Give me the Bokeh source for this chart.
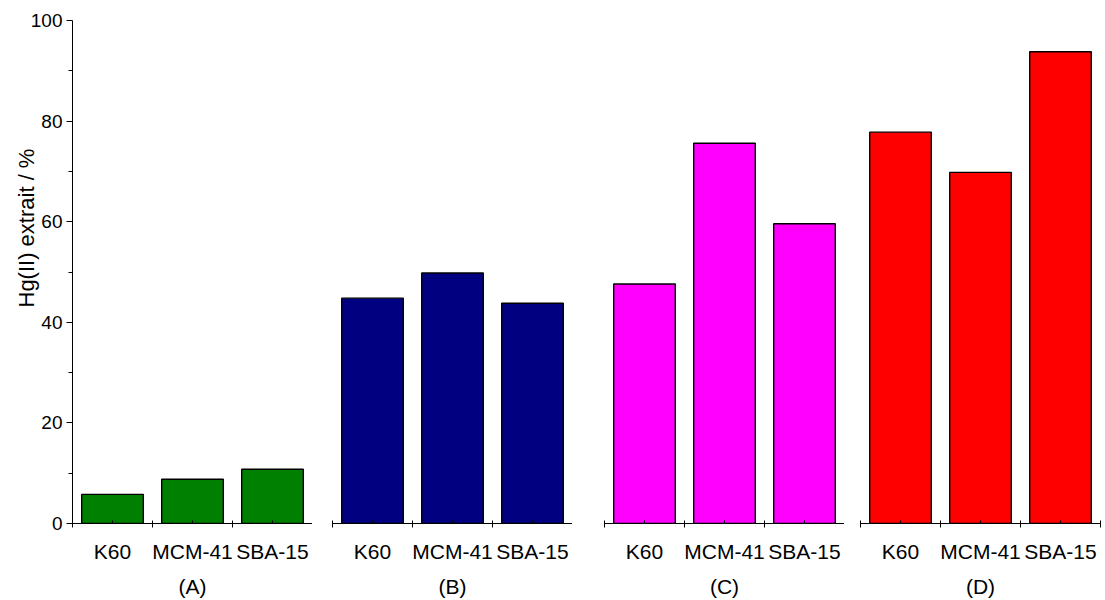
import numpy as np
from bokeh.plotting import figure
from bokeh.models import Range1d, LinearAxis, FixedTicker, Title
from bokeh.layouts import row
from bokeh.embed import file_html
from bokeh.resources import INLINE

# ---- data ----
materials = ["K60", "MCM-41", "SBA-15"]
group_labels = ["(A)", "(B)", "(C)", "(D)"]
values_A = [5.8, 8.8, 10.8]
values_B = [44.8, 49.8, 43.8]
values_C = [47.6, 75.6, 59.6]
values_D = [77.8, 69.8, 93.8]
group_values = [values_A, values_B, values_C, values_D]
group_colors = ["#008000", "#000080", "#FF00FF", "#FF0000"]
y_major = [0, 20, 40, 60, 80, 100]
y_minor = [10, 30, 50, 70, 90]
y_label = "Hg(II) extrait / %"

FONT = "Liberation Sans"
n = len(materials)
centers = list(np.arange(n) + 0.5)
bounds = list(np.arange(n + 1).astype(float))

y_range = Range1d(0, 100)

frame_w = 240
lefts = [72, 20, 32, 16]
rights = [0, 0, 0, 4]
H = 600
TOP = 20
BOTTOM = 77

figs = []
for i, (vals, col, glab) in enumerate(zip(group_values, group_colors, group_labels)):
    p = figure(width=lefts[i] + frame_w + rights[i], height=H,
               x_range=Range1d(0, n), y_range=y_range,
               output_backend="svg", toolbar_location=None,
               x_axis_location=None, y_axis_location=None,
               min_border_left=lefts[i], min_border_right=rights[i],
               min_border_top=TOP, min_border_bottom=BOTTOM)
    p.outline_line_color = None
    p.xgrid.visible = False
    p.ygrid.visible = False
    p.background_fill_color = "white"
    p.border_fill_color = "white"

    p.vbar(x=centers, top=vals, width=0.77, bottom=0,
           fill_color=col, line_color="black", line_width=1.4)

    xa = LinearAxis(ticker=FixedTicker(ticks=centers, minor_ticks=bounds),
                    major_label_overrides={c: m for c, m in zip(centers, materials)})
    xa.axis_line_color = "black"
    xa.axis_line_width = 1
    xa.major_tick_in = 3
    xa.major_tick_out = 0
    xa.minor_tick_in = 3
    xa.minor_tick_out = 4
    xa.major_tick_line_color = "black"
    xa.minor_tick_line_color = "black"
    xa.major_label_text_font = FONT
    xa.major_label_text_font_size = "21px"
    xa.major_label_text_color = "black"
    xa.major_label_standoff = 12
    xa.axis_label = glab
    xa.axis_label_text_font = FONT
    xa.axis_label_text_font_size = "21px"
    xa.axis_label_text_font_style = "normal"
    xa.axis_label_text_color = "black"
    xa.axis_label_standoff = 9
    p.add_layout(xa, "below")

    if i == 0:
        ya = LinearAxis(ticker=FixedTicker(ticks=y_major, minor_ticks=y_minor))
        ya.axis_line_color = "black"
        ya.major_tick_in = 0
        ya.major_tick_out = 6
        ya.minor_tick_in = 0
        ya.minor_tick_out = 4
        ya.major_tick_line_color = "black"
        ya.minor_tick_line_color = "black"
        ya.major_label_text_font = FONT
        ya.major_label_text_font_size = "19px"
        ya.major_label_text_color = "black"
        ya.major_label_standoff = 4
        p.add_layout(ya, "left")
        t = Title(text=y_label, align="left", offset=216,
                  vertical_align="bottom", standoff=-22,
                  text_font=FONT, text_font_size="22px",
                  text_font_style="normal", text_color="black")
        p.add_layout(t, "left")
    figs.append(p)

layout = row(*figs, spacing=0)
open("out.html", "w").write(file_html(layout, INLINE))
